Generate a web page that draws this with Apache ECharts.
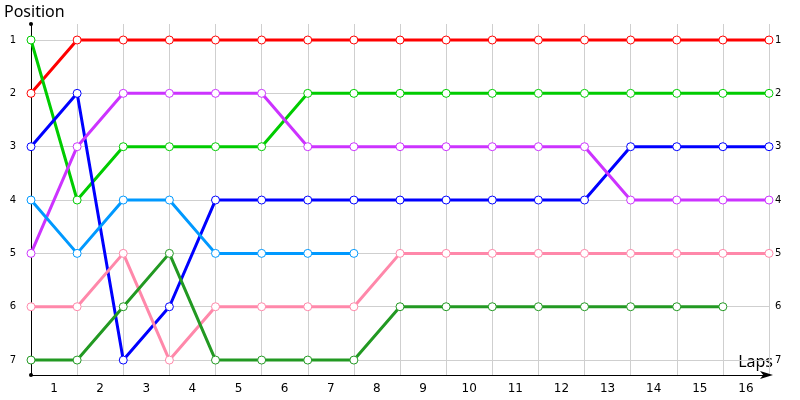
<!DOCTYPE html>
<html>
<head>
<meta charset="utf-8">
<script src="https://cdn.jsdelivr.net/npm/echarts@6/dist/echarts.min.js"></script>
<style>
  html, body { margin: 0; padding: 0; background: #fff; }
  #chart { width: 800px; height: 400px; }
</style>
</head>
<body>
<div id="chart"></div>
<script>
// lap labels sit between the gridlines, positions at lap boundaries (0..16)
var lapLabels = ['1','2','3','4','5','6','7','8','9','10','11','12','13','14','15','16'];
var positionTicks = [1, 2, 3, 4, 5, 6, 7];

var redCar       = [2, 1, 1, 1, 1, 1, 1, 1, 1, 1, 1, 1, 1, 1, 1, 1, 1];
var greenCar     = [1, 4, 3, 3, 3, 3, 2, 2, 2, 2, 2, 2, 2, 2, 2, 2, 2];
var blueCar      = [3, 2, 7, 6, 4, 4, 4, 4, 4, 4, 4, 4, 4, 3, 3, 3, 3];
var purpleCar    = [5, 3, 2, 2, 2, 2, 3, 3, 3, 3, 3, 3, 3, 4, 4, 4, 4];
var lightBlueCar = [4, 5, 4, 4, 5, 5, 5, 5];
var pinkCar      = [6, 6, 5, 7, 6, 6, 6, 6, 5, 5, 5, 5, 5, 5, 5, 5, 5];
var darkGreenCar = [7, 7, 6, 5, 7, 7, 7, 7, 6, 6, 6, 6, 6, 6, 6, 6];

var cars = [
    {name: 'Red',        color: '#ff0000', data: redCar},
    {name: 'Green',      color: '#00cc00', data: greenCar},
    {name: 'Blue',       color: '#0000ff', data: blueCar},
    {name: 'Purple',     color: '#cc33ff', data: purpleCar},
    {name: 'Light blue', color: '#0099ff', data: lightBlueCar},
    {name: 'Pink',       color: '#ff88aa', data: pinkCar},
    {name: 'Dark green', color: '#229922', data: darkGreenCar}
];

var chart = echarts.init(document.getElementById('chart'));

var option = {
    animation: false,
    textStyle: { fontFamily: 'DejaVu Sans' },
    grid: { left: 31, right: 31, top: 24, bottom: 25 },
    xAxis: [
        {
            type: 'value',
            min: 0,
            max: lapLabels.length,
            interval: 1,
            position: 'bottom',
            axisLine: {
                show: true,
                lineStyle: { color: '#000', width: 1 },
                symbol: ['none', 'arrow'],
                symbolSize: [6, 13],
                symbolOffset: [0, 4]
            },
            axisTick: { show: false },
            axisLabel: { show: false },
            splitLine: { show: true, lineStyle: { color: '#cfcfcf', width: 1 } }
        },
        {
            type: 'category',
            data: lapLabels,
            boundaryGap: true,
            position: 'bottom',
            axisLine: { show: false },
            axisTick: { show: false },
            splitLine: { show: false },
            axisLabel: { color: '#000', fontSize: 12, margin: 8, interval: 0 }
        }
    ],
    yAxis: [
        {
            type: 'value',
            inverse: true,
            min: 0.7,
            max: 7.28,
            position: 'left',
            axisLine: {
                show: true,
                lineStyle: { color: '#000', width: 1 },
                symbol: ['circle', 'circle'],
                symbolSize: [4, 4]
            },
            axisTick: { show: false, customValues: positionTicks },
            axisLabel: { color: '#000', fontSize: 10, margin: 15, customValues: positionTicks },
            splitLine: { show: true, lineStyle: { color: '#cfcfcf', width: 1 } }
        },
        {
            type: 'value',
            inverse: true,
            min: 0.7,
            max: 7.28,
            position: 'right',
            axisLine: { show: false },
            axisTick: { show: false, customValues: positionTicks },
            axisLabel: { color: '#000', fontSize: 10, margin: 6, customValues: positionTicks },
            splitLine: { show: false }
        }
    ],
    graphic: [
        {
            type: 'text',
            left: 4,
            top: 4,
            style: { text: 'Position', fontSize: 16, fontFamily: 'Noto Sans', fill: '#000' }
        },
        {
            type: 'text',
            right: 27,
            top: 354,
            style: { text: 'Laps', fontSize: 16, fontFamily: 'Noto Sans', fill: '#000' }
        }
    ],
    series: cars.map(function (car) {
        return {
            name: car.name,
            type: 'line',
            xAxisIndex: 0,
            yAxisIndex: 0,
            data: car.data.map(function (pos, lap) { return [lap, pos]; }),
            symbol: 'circle',
            symbolSize: 8,
            showSymbol: true,
            lineStyle: { color: car.color, width: 3 },
            itemStyle: { color: '#fff', borderColor: car.color, borderWidth: 1 }
        };
    })
};

chart.setOption(option);
</script>
</body>
</html>
